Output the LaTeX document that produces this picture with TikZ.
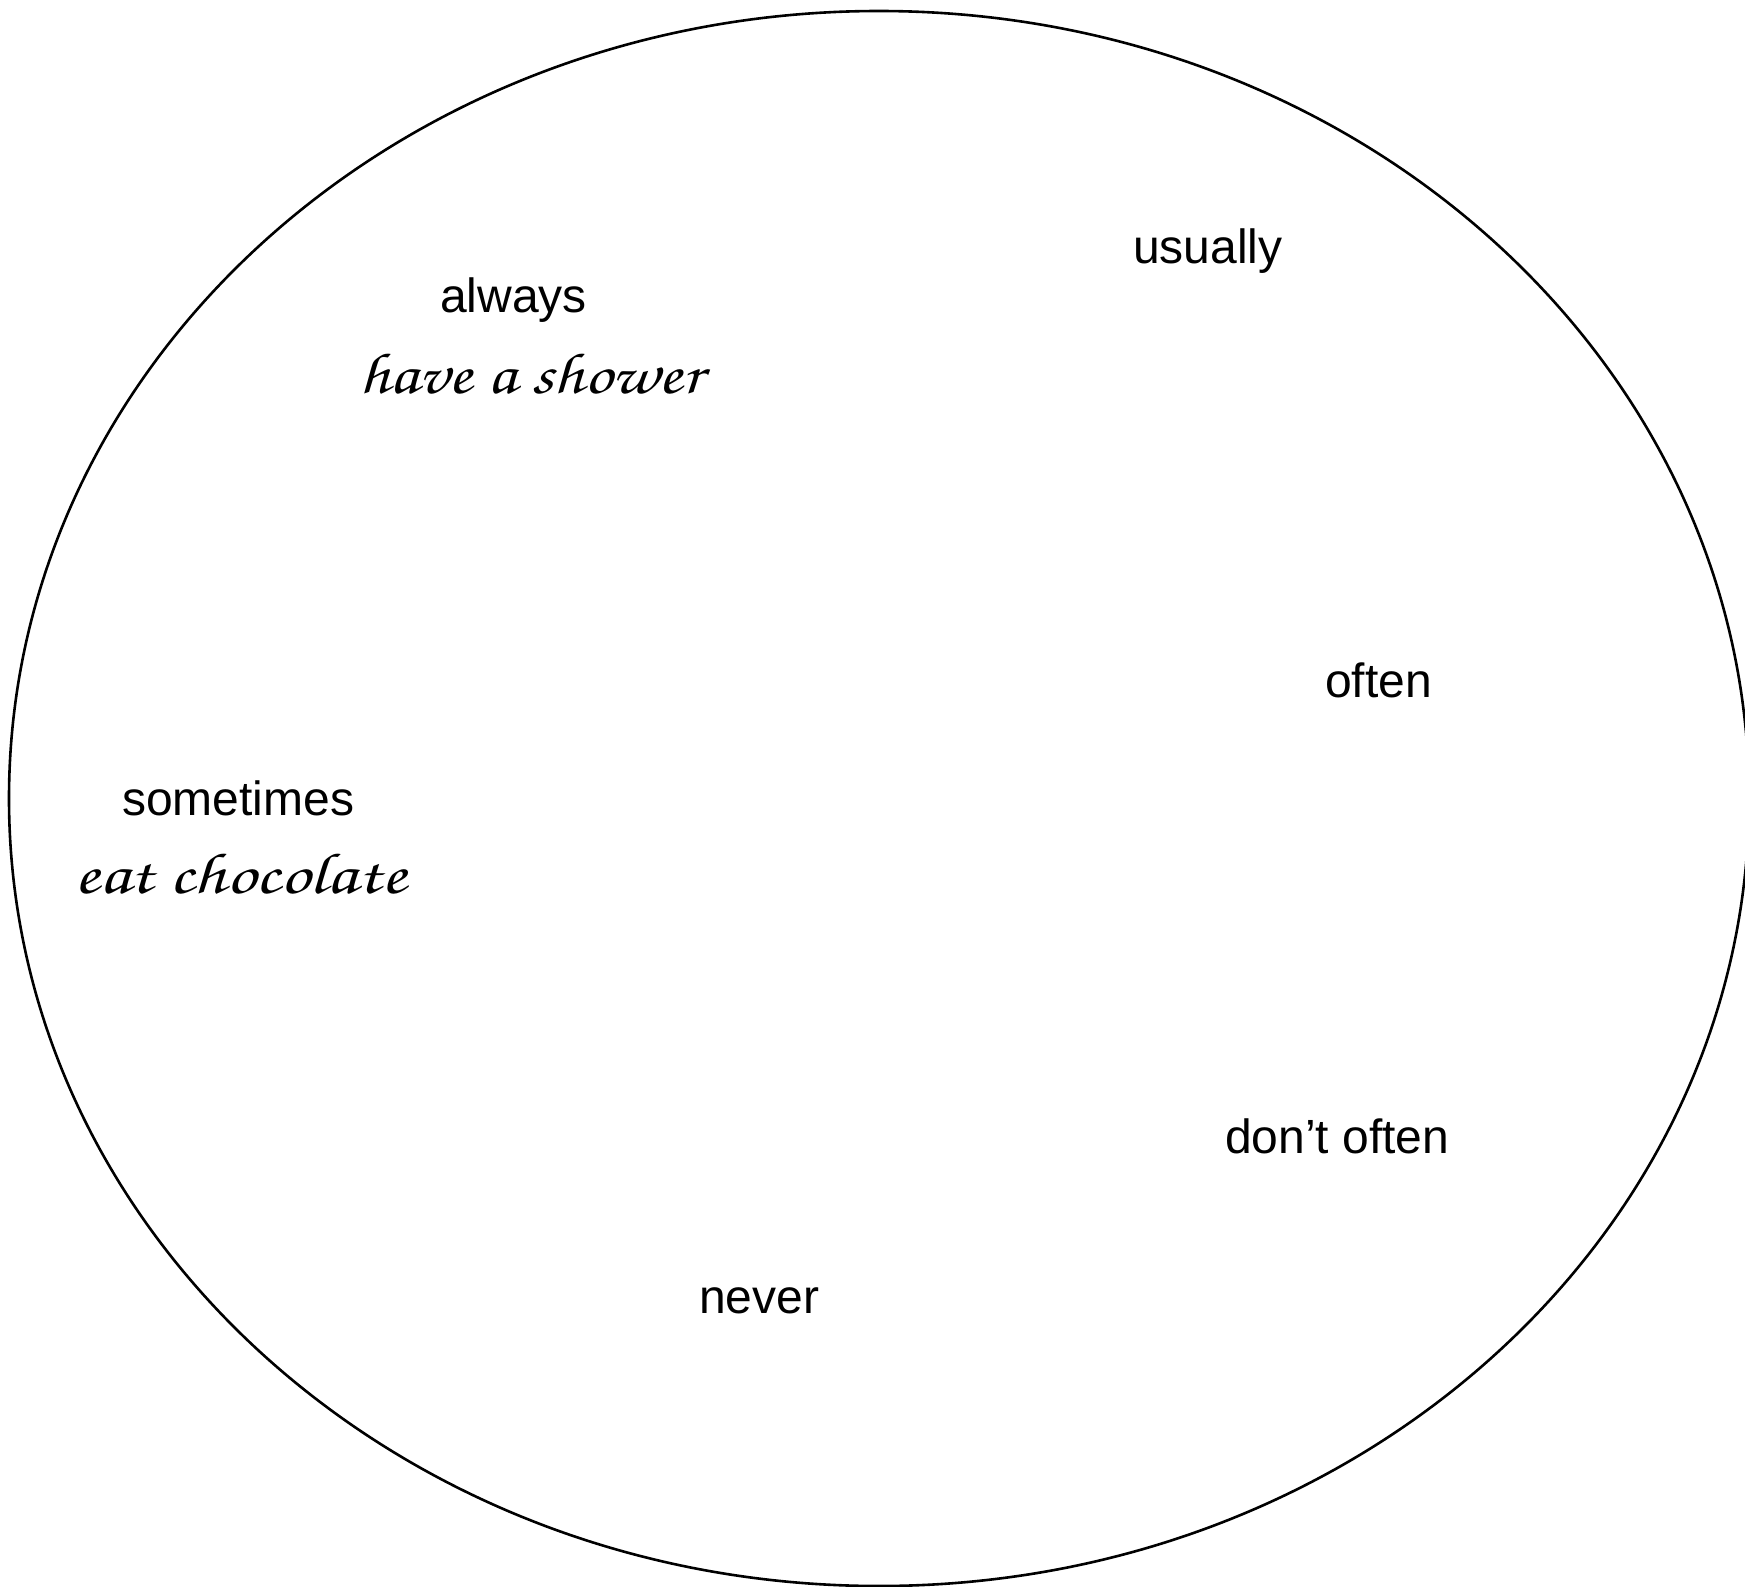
\documentclass[tikz,border=0pt]{standalone}
\usepackage[T1]{fontenc}
\usepackage{graphicx}
\usepackage{fontspec}
\setmainfont{Liberation Sans}
\newcommand{\actfont}{\fontencoding{T1}\fontfamily{pzc}\fontseries{mb}\fontshape{it}\fontsize{58}{68}\selectfont}
\begin{document}
\begin{tikzpicture}[x=1pt,y=-1pt,
  word/.style={anchor=base west,inner sep=0pt,font=\fontsize{48}{58}\selectfont},
  act/.style={anchor=base west,inner sep=0pt,font=\actfont}]
\useasboundingbox (0,0) rectangle (1745,1587);
\clip (0,0) rectangle (1745,1587);
\draw[line width=2.6pt] (879,798.5) ellipse [x radius=870, y radius=787.5];
\node[word] (always) at (440,312) {always};
\node[act] (shower) at (359,393) {\scalebox{1.19}[1]{have a shower}};
\node[word] (usually) at (1133,263) {usually};
\node[word] (often) at (1325,697) {often};
\node[word] (sometimes) at (122,815) {sometimes};
\node[act] (choc) at (74,893) {\scalebox{1.26}[1]{eat chocolate}};
\node[word] (dontoften) at (1225,1153) {don’t often};
\node[word] (never) at (699,1313) {never};
\end{tikzpicture}
\end{document}
